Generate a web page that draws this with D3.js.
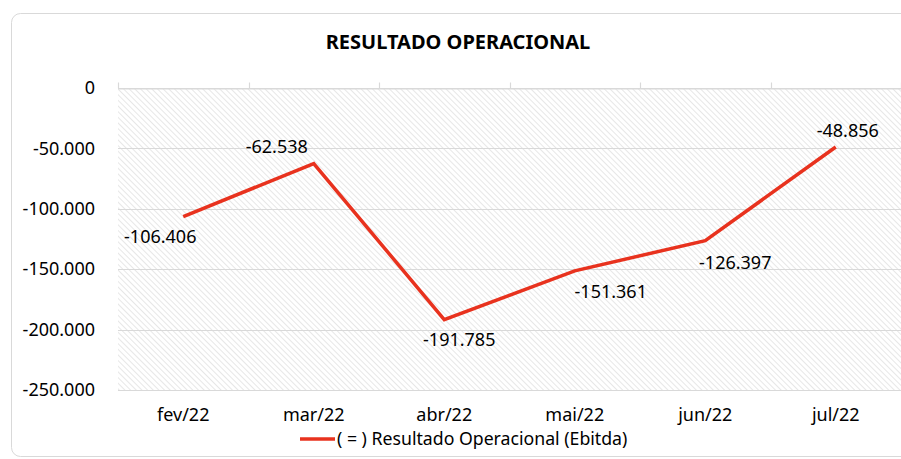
<!DOCTYPE html>
<html>
<head>
<meta charset="utf-8">
<script src="https://cdn.jsdelivr.net/npm/d3@7"></script>
<style>
  body { margin: 0; background: #fff; }
  text { font-family: "Noto Sans", "Open Sans", sans-serif; fill: #000; }
</style>
</head>
<body>
<div id="chart"></div>
<script>
// chart data
var months = ["fev/22", "mar/22", "abr/22", "mai/22", "jun/22", "jul/22"];
var ebitda = [-106406, -62538, -191785, -151361, -126397, -48856];
var yTicks = [0, -50000, -100000, -150000, -200000, -250000];
var seriesName = "( = ) Resultado Operacional (Ebitda)";
var title = "RESULTADO OPERACIONAL";

// where each data label sits relative to its point (layout only)
var labelShift = [[-23, 20], [-37, -17], [15, 20], [36, 21], [30, 22], [12, -16]];

var W = 901, H = 459;
var plot = {left: 118, right: 901, top: 88, bottom: 390};
var red = "#e8321e";

var svg = d3.select("#chart").append("svg")
    .attr("width", W)
    .attr("height", H);

// hatch fill for plot area
var defs = svg.append("defs");
var pat = defs.append("pattern")
    .attr("id", "hatch")
    .attr("patternUnits", "userSpaceOnUse")
    .attr("width", 4)
    .attr("height", 4)
    .attr("patternTransform", "rotate(-45)");
pat.append("rect").attr("width", 4).attr("height", 4).attr("fill", "#fff");
pat.append("line")
    .attr("x1", 0).attr("y1", 0).attr("x2", 0).attr("y2", 4)
    .attr("stroke", "#dadada").attr("stroke-width", 1.3);

// outer chart border
svg.append("rect")
    .attr("x", 11.5).attr("y", 13.5)
    .attr("width", 940).attr("height", 443)
    .attr("rx", 9)
    .attr("fill", "#fff")
    .attr("stroke", "#d9d9d9")
    .attr("stroke-width", 1);

var x = d3.scaleBand().domain(months).range([plot.left, plot.right]);
var y = d3.scaleLinear().domain([-250000, 0]).range([plot.bottom, plot.top]);

svg.append("rect")
    .attr("x", plot.left).attr("y", plot.top)
    .attr("width", plot.right - plot.left)
    .attr("height", plot.bottom - plot.top)
    .attr("fill", "url(#hatch)");

// horizontal gridlines
svg.append("g").selectAll("line")
    .data(yTicks)
    .join("line")
    .attr("x1", plot.left).attr("x2", plot.right)
    .attr("y1", function(d) { return Math.round(y(d)) + 0.5; })
    .attr("y2", function(d) { return Math.round(y(d)) + 0.5; })
    .attr("stroke", "#d9d9d9")
    .attr("stroke-width", 1.2);

// y axis labels, pt-BR style with a plain hyphen
var fmt = function(d) {
    return d3.format(",")(d).replace(/,/g, ".").replace("\u2212", "-");
};
var yAxis = d3.axisLeft(y).tickValues(yTicks).tickFormat(fmt).tickSize(0).tickPadding(23);
var gy = svg.append("g")
    .attr("transform", "translate(" + plot.left + ",0)")
    .call(yAxis);
gy.select(".domain").remove();
gy.selectAll("text").style("font-size", "18px").attr("fill", "#000");

// category axis sits on the zero line, ticks pointing up
var xAxis = d3.axisTop(x).tickSize(0).tickFormat("");
var gx = svg.append("g")
    .attr("transform", "translate(0," + (Math.round(y(0)) + 0.5) + ")")
    .call(xAxis);
gx.select(".domain").attr("stroke", "#d9d9d9").attr("stroke-width", 1.2);
var bounds = months.map(function(m) { return x(m); }).concat([plot.right]);
gx.selectAll(".sep")
    .data(bounds)
    .join("line")
    .attr("class", "sep")
    .attr("x1", function(d) { return Math.round(d) + 0.5; })
    .attr("x2", function(d) { return Math.round(d) + 0.5; })
    .attr("y1", 0).attr("y2", -6)
    .attr("stroke", "#d9d9d9")
    .attr("stroke-width", 1.2);

// category labels at the bottom
svg.append("g").selectAll("text")
    .data(months)
    .join("text")
    .attr("x", function(d) { return x(d) + x.bandwidth() / 2; })
    .attr("y", 421)
    .attr("text-anchor", "middle")
    .style("font-size", "18px")
    .text(function(d) { return d; });

// the series line
var line = d3.line()
    .x(function(d, i) { return x(months[i]) + x.bandwidth() / 2; })
    .y(function(d) { return y(d); });

svg.append("path")
    .datum(ebitda)
    .attr("d", line)
    .attr("fill", "none")
    .attr("stroke", red)
    .attr("stroke-width", 3.5)
    .attr("stroke-linejoin", "miter");

// data labels
svg.append("g").selectAll("text")
    .data(ebitda)
    .join("text")
    .attr("x", function(d, i) { return x(months[i]) + x.bandwidth() / 2 + labelShift[i][0]; })
    .attr("y", function(d, i) { return y(d) + labelShift[i][1]; })
    .attr("text-anchor", "middle")
    .attr("dy", "0.35em")
    .style("font-size", "18px")
    .text(function(d) { return fmt(d); });

// title
svg.append("text")
    .attr("x", 458)
    .attr("y", 49)
    .attr("text-anchor", "middle")
    .style("font-size", "20px")
    .style("font-weight", "bold")
    .text(title);

// legend
svg.append("line")
    .attr("x1", 300).attr("x2", 335)
    .attr("y1", 439).attr("y2", 439)
    .attr("stroke", red)
    .attr("stroke-width", 3.5);
svg.append("text")
    .attr("x", 337)
    .attr("y", 445)
    .style("font-size", "17.7px")
    .text(seriesName);
</script>
</body>
</html>
